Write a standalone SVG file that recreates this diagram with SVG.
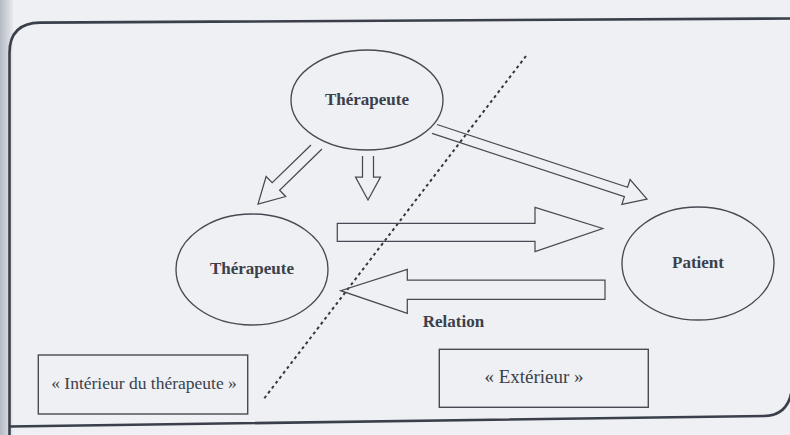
<svg xmlns="http://www.w3.org/2000/svg" width="790" height="435" viewBox="0 0 790 435">
  <defs>
    <linearGradient id="edge" x1="0" y1="0" x2="1" y2="0">
      <stop offset="0" stop-color="#b4bac3"/>
      <stop offset="1" stop-color="#e6e9ed"/>
    </linearGradient>
    <style>
      .line { fill: none; stroke: #464a53; stroke-width: 1.25; stroke-linejoin: miter; }
      .node { fill: none; stroke: #464a53; stroke-width: 1.35; }
      .box { fill: none; stroke: #464a53; stroke-width: 1.4; }
      .bold { font-family: "Liberation Serif", "Times New Roman", serif; font-weight: bold; font-size: 17px; fill: #3b404b; text-anchor: middle; }
      .reg { font-family: "Liberation Serif", "Times New Roman", serif; font-size: 17.5px; fill: #3b404b; text-anchor: middle; }
      .sep { fill: none; stroke: #33373f; stroke-width: 2; stroke-dasharray: 3 3.2; }
      .frame { fill: none; stroke: #3a3f4b; stroke-width: 2.6; }
    </style>
  </defs>

  <!-- page background -->
  <rect x="0" y="0" width="790" height="435" fill="#eef0f3"/>
  <rect x="0" y="0" width="13" height="435" fill="url(#edge)"/>

  <!-- frame -->
  <g id="frame">
    <path class="frame" d="M 9.5,435 L 9.5,53 Q 9.5,23 40,22.6 L 790,18.5"/>
    <path class="frame" d="M 9.5,426.5 L 764,416 Q 789,415.5 792,388"/>
  </g>

  <!-- separator -->
  <g id="separator">
    <line class="sep" x1="526" y1="56" x2="263" y2="400"/>
  </g>

  <!-- connectors -->
  <g id="connectors">
    <path class="line" d="M 311,145 L 272.2,182.7 L 266.1,176.5 L 258,204 L 285.7,196.5 L 279.6,190.3 L 322,149"/>
    <path class="line" d="M 362.5,156 L 362.5,177 L 355.5,177 L 368,200 L 380.5,177 L 373.5,177 L 373.5,156"/>
    <path class="line" d="M 437,124.5 L 627.6,187.3 L 630.1,179.6 L 647,199 L 621.9,204.4 L 624.4,196.75 L 432,133.4"/>
    <path class="line" d="M 337.3,223.3 L 535,223.3 L 535,207.3 L 602.7,228.5 L 535,251.7 L 535,241.3 L 337.3,241.3 Z"/>
    <path class="line" d="M 605,280 L 407.3,280 L 407.3,269.3 L 340.7,290.7 L 407.3,313.3 L 407.3,299.3 L 605,299.3 Z"/>
  </g>

  <!-- nodes -->
  <g id="therapeute-top">
    <ellipse class="node" cx="367" cy="100" rx="76" ry="50"/>
    <text class="bold" x="367" y="105">Thérapeute</text>
  </g>
  <g id="therapeute">
    <ellipse class="node" cx="252" cy="269.5" rx="76" ry="55.5"/>
    <text class="bold" x="252" y="274">Thérapeute</text>
  </g>
  <g id="patient">
    <ellipse class="node" cx="698" cy="263.5" rx="76" ry="56.5"/>
    <text class="bold" x="698" y="268">Patient</text>
  </g>
  <g id="relation">
    <text class="bold" x="453.5" y="327">Relation</text>
  </g>
  <g id="interieur">
    <rect class="box" x="38.3" y="355" width="209.4" height="59"/>
    <text class="reg" x="144" y="389">« Intérieur du thérapeute »</text>
  </g>
  <g id="exterieur">
    <rect class="box" x="439.3" y="349.3" width="209" height="58"/>
    <text class="reg" x="534" y="383" style="font-size:19px">« Extérieur »</text>
  </g>
</svg>
